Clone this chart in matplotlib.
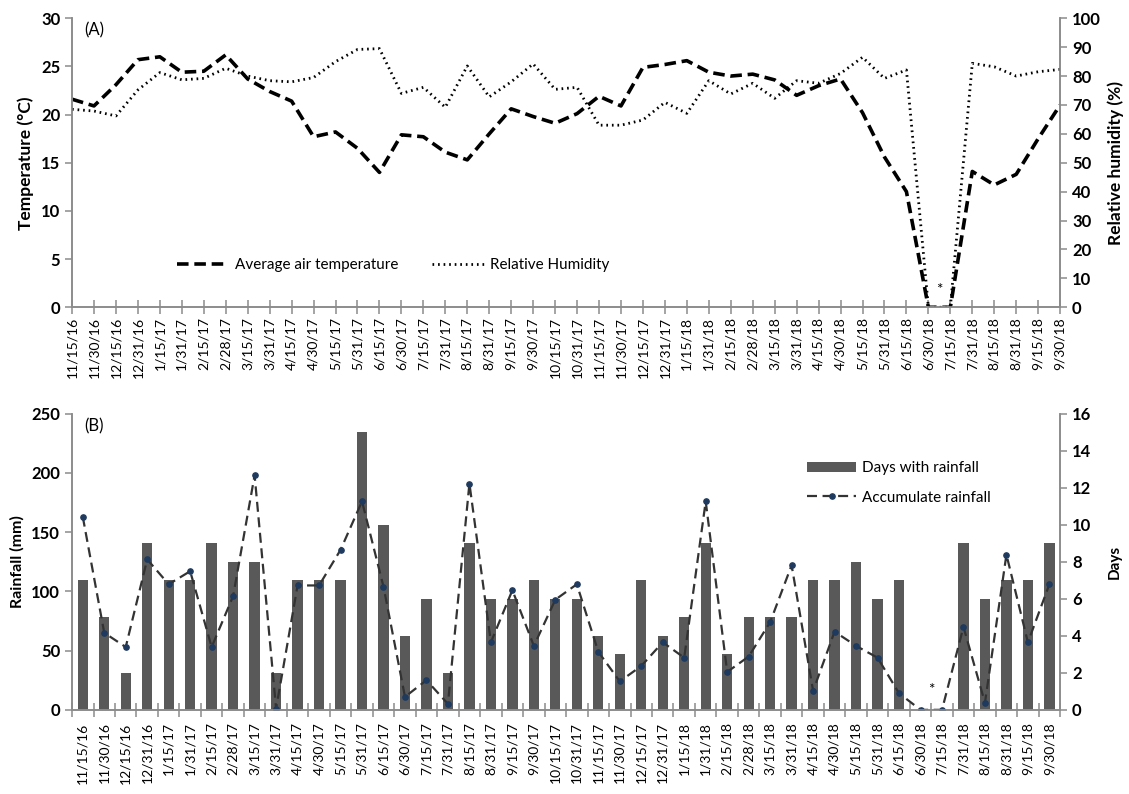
import matplotlib
matplotlib.use("Agg")
import matplotlib.pyplot as plt
import numpy as np
from matplotlib.patches import Patch
from matplotlib.lines import Line2D

plt.rcParams["font.family"] = ["Lato", "DejaVu Sans"]

dates = [
    "11/15/16", "11/30/16", "12/15/16", "12/31/16", "1/15/17", "1/31/17",
    "2/15/17", "2/28/17", "3/15/17", "3/31/17", "4/15/17", "4/30/17",
    "5/15/17", "5/31/17", "6/15/17", "6/30/17", "7/15/17", "7/31/17",
    "8/15/17", "8/31/17", "9/15/17", "9/30/17", "10/15/17", "10/31/17",
    "11/15/17", "11/30/17", "12/15/17", "12/31/17", "1/15/18", "1/31/18",
    "2/15/18", "2/28/18", "3/15/18", "3/31/18", "4/15/18", "4/30/18",
    "5/15/18", "5/31/18", "6/15/18", "6/30/18", "7/15/18", "7/31/18",
    "8/15/18", "8/31/18", "9/15/18", "9/30/18",
]

# average air temperature (C)
temp = [
    21.6, 20.9, 23.1, 25.7, 26.0, 24.4, 24.5, 26.2, 23.7, 22.4, 21.4, 17.7,
    18.2, 16.5, 14.0, 17.9, 17.7, 16.1, 15.3, 18.0, 20.6, 19.8, 19.1, 20.1,
    21.9, 20.9, 24.9, 25.2, 25.6, 24.4, 24.0, 24.2, 23.6, 22.0, 23.0, 23.7,
    20.2, 15.6, 12.0, 0.0, 0.0, 14.1, 12.7, 13.8, 17.5, 21.0,
]

# relative humidity (%)
rh = [
    68.5, 67.9, 66.2, 75.2, 81.2, 78.7, 79.2, 82.7, 80.0, 78.4, 78.0, 79.5,
    85.0, 89.2, 89.5, 74.0, 76.1, 69.2, 83.5, 72.8, 78.0, 84.2, 75.4, 76.1,
    63.0, 63.0, 64.8, 70.9, 67.1, 78.4, 73.8, 77.5, 72.3, 78.4, 77.5, 80.9,
    86.5, 79.2, 82.1, 0.0, 0.0, 84.4, 83.2, 80.0, 81.5, 82.3,
]

# days with rainfall
rain_days = [
    7, 5, 2, 9, 7, 7, 9, 8, 8, 2, 7, 7, 7, 15, 10, 4, 6, 2, 9, 6, 6, 7, 6, 6,
    4, 3, 7, 4, 5, 9, 3, 5, 5, 5, 7, 7, 8, 6, 7, 0, 0, 9, 6, 7, 7, 9,
]

# accumulated rainfall (mm)
rain_mm = [
    163, 65, 53, 127, 106, 117, 53, 96, 198, 1, 105, 105, 135, 176, 104, 11,
    25, 5, 191, 57, 101, 54, 93, 106, 49, 24, 37, 57, 44, 176, 32, 45, 74,
    122, 16, 66, 54, 44, 14, 0, 0, 70, 6, 131, 57, 106,
]

x = np.arange(len(dates))
axis_gray = "#8c8c8c"
bar_gray = "#595959"
temp_ls = (0, (3.2, 1.6))
rh_ls = (0, (0.6, 1.4))
rain_ls = (0, (4.5, 2.5))

fig = plt.figure(figsize=(11.29, 7.94), dpi=100)


def style_axes(ax, ticks):
    for side in ["left", "right", "bottom"]:
        ax.spines[side].set_color(axis_gray)
        ax.spines[side].set_linewidth(1.2)
    ax.spines["top"].set_visible(False)
    ax.set_yticks(ticks, [str(t) for t in ticks], fontweight="bold", fontsize=12)
    ax.tick_params(axis="y", colors=axis_gray, labelcolor="black", length=5, width=1.1)


# ---------- (A) temperature and humidity ----------
ax1 = fig.add_axes([0.0638, 0.613, 0.8752, 0.364])
ax1r = ax1.twinx()

ax1.plot(x, temp, color="black", lw=2.6, ls=temp_ls)
ax1r.plot(x, rh, color="black", lw=2.0, ls=rh_ls)

ax1.set_xlim(0, len(dates) - 1)
ax1.set_ylim(0, 30)
ax1r.set_ylim(0, 100)
style_axes(ax1, list(range(0, 31, 5)))
style_axes(ax1r, list(range(0, 101, 10)))

ax1.set_xticks(x)
ax1.set_xticklabels(dates, rotation=90, fontsize=10)
ax1.tick_params(axis="x", direction="inout", length=10, width=1.1, colors=axis_gray,
                labelcolor="black", pad=2)

ax1.set_ylabel("Temperature (°C)", fontsize=12.5, fontweight="bold", labelpad=5)
ax1r.set_ylabel("Relative humidity (%)", fontsize=12.5, fontweight="bold", labelpad=5)

ax1.text(0.012, 0.985, "(A)", transform=ax1.transAxes, fontsize=12, va="top", ha="left")
ax1.text(39.5, 1.8, "*", ha="center", va="center", fontsize=11)

leg1 = [
    Line2D([], [], color="black", lw=2.6, ls=temp_ls),
    Line2D([], [], color="black", lw=2.0, ls=rh_ls),
]
ax1.legend(leg1, ["Average air temperature", "Relative Humidity"], ncol=2, frameon=False,
           loc="center", bbox_to_anchor=(0.325, 0.145), fontsize=11, handlelength=3.4,
           columnspacing=2.2, handletextpad=0.4)

# ---------- (B) rainfall ----------
ax2 = fig.add_axes([0.0638, 0.106, 0.8752, 0.373])
ax2l = ax2.twinx()
# bars go on the base axes (drawn first), days scale shown on the right
ax2.yaxis.tick_right()
ax2.yaxis.set_label_position("right")
ax2l.yaxis.tick_left()
ax2l.yaxis.set_label_position("left")

ax2.bar(x, rain_days, width=0.48, color=bar_gray, zorder=2)
ax2.set_ylim(0, 16)
ax2.set_ylabel("Days", fontsize=11, fontweight="bold", labelpad=12)

ax2l.plot(x, rain_mm, color="#333333", lw=1.6, ls=rain_ls,
          marker="o", markersize=3.8, markerfacecolor="#1f3a5f", markeredgecolor="#1f3a5f")
ax2l.set_ylim(0, 250)
ax2l.set_ylabel("Rainfall (mm)", fontsize=11.5, fontweight="bold", labelpad=5)

style_axes(ax2, list(range(0, 17, 2)))
style_axes(ax2l, list(range(0, 251, 50)))

ax2.set_xlim(-0.5, len(dates) - 0.5)
ax2.set_xticks(x)
ax2.set_xticklabels(dates, rotation=90, fontsize=10)
ax2.set_xticks(np.arange(-0.5, len(dates), 1.0), minor=True)
ax2.tick_params(axis="x", which="major", length=0, labelcolor="black", pad=9)
ax2.tick_params(axis="x", which="minor", direction="inout", length=10, width=1.1, colors=axis_gray)

ax2l.text(0.012, 0.985, "(B)", transform=ax2.transAxes, fontsize=12, va="top", ha="left")
ax2l.text(39.5, 17, "*", ha="center", va="center", fontsize=11)

leg2 = [
    Patch(facecolor=bar_gray),
    Line2D([], [], color="#333333", lw=1.6, ls=rain_ls, marker="o",
           markersize=3.8, markerfacecolor="#1f3a5f", markeredgecolor="#1f3a5f"),
]
ax2l.legend(leg2, ["Days with rainfall", "Accumulate rainfall"], frameon=False,
            loc="upper left", bbox_to_anchor=(0.73, 0.885), fontsize=11,
            handlelength=3.2, labelspacing=1.0, handletextpad=0.4)

fig.savefig("out.png", dpi=100)
